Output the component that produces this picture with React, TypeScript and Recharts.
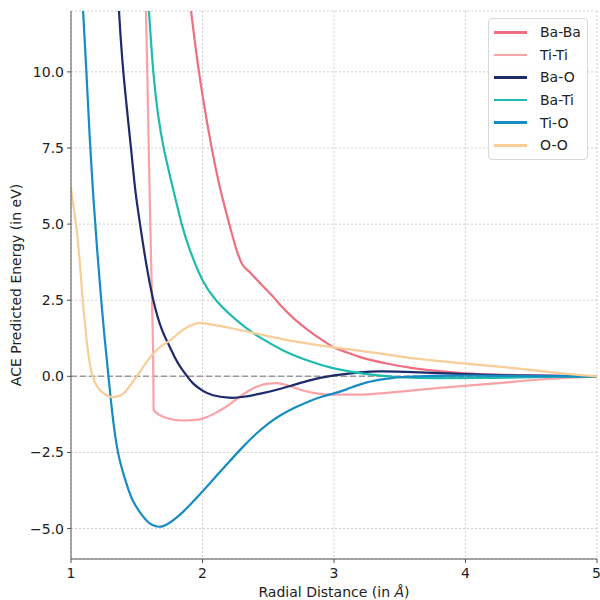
import React from "react";
import {
  LineChart,
  Line,
  XAxis,
  YAxis,
  CartesianGrid,
  ReferenceLine,
  Legend,
} from "recharts";

// radial distance (Å) / predicted energy (eV) per pair
const baBaX = [1.913, 1.973, 2.006, 2.07, 2.125, 2.204, 2.26, 2.298, 2.36, 2.44, 2.538, 2.6, 2.7, 2.8, 2.9, 3.0, 3.1, 3.2, 3.4, 3.6, 3.8, 4.0, 4.3, 4.6, 5.0];
const baBaY = [12.0, 10.0, 9.08, 7.5, 6.34, 5.0, 4.14, 3.71, 3.42, 3.05, 2.61, 2.3, 1.88, 1.53, 1.22, 0.95, 0.78, 0.63, 0.42, 0.27, 0.17, 0.1, 0.05, 0.02, 0];

const tiTiX = [1.57, 1.58, 1.591, 1.603, 1.616, 1.626, 1.628, 1.651, 1.7, 1.753, 1.85, 1.93, 2.006, 2.1, 2.18, 2.3, 2.437, 2.5, 2.56, 2.65, 2.75, 2.85, 3.0, 3.2, 3.375, 3.8, 4.2, 4.64, 5.0];
const tiTiY = [12.0, 10.0, 7.5, 5.0, 2.5, 0, -1.1, -1.2, -1.33, -1.4, -1.45, -1.44, -1.38, -1.2, -1.0, -0.62, -0.3, -0.24, -0.22, -0.3, -0.45, -0.55, -0.6, -0.6, -0.55, -0.38, -0.24, -0.08, 0];

const baOX = [1.365, 1.398, 1.456, 1.489, 1.525, 1.57, 1.626, 1.69, 1.753, 1.79, 1.829, 1.88, 1.93, 2.0, 2.08, 2.2, 2.3, 2.45, 2.6, 2.8, 3.0, 3.2, 3.35, 3.6, 4.0, 4.5, 5.0];
const baOY = [12.0, 10.0, 7.5, 6.12, 5.0, 3.75, 2.5, 1.55, 0.95, 0.62, 0.33, 0.02, -0.24, -0.47, -0.62, -0.7, -0.68, -0.56, -0.4, -0.15, 0.03, 0.13, 0.16, 0.14, 0.07, 0.02, 0];

const baTiX = [1.593, 1.626, 1.662, 1.705, 1.766, 1.842, 1.905, 2.0, 2.103, 2.2, 2.3, 2.36, 2.44, 2.61, 2.8, 3.0, 3.25, 3.5, 3.8, 4.2, 4.6, 5.0];
const baTiY = [12.0, 10.0, 8.6, 7.5, 6.34, 5.0, 4.14, 3.16, 2.5, 2.07, 1.7, 1.5, 1.27, 0.86, 0.52, 0.26, 0.07, -0.03, -0.06, -0.05, -0.02, 0];

const tiOX = [1.092, 1.117, 1.143, 1.17, 1.2, 1.228, 1.256, 1.284, 1.3, 1.322, 1.345, 1.373, 1.42, 1.47, 1.53, 1.58, 1.61, 1.64, 1.67, 1.7, 1.75, 1.8, 1.85, 1.92, 2.0, 2.1, 2.2, 2.3, 2.4, 2.5, 2.6, 2.7, 2.8, 2.9, 3.0, 3.1, 3.25, 3.4, 3.5, 3.7, 4.0, 4.5, 5.0];
const tiOY = [12.0, 10.0, 7.8, 5.9, 4.1, 2.6, 1.25, 0.05, -0.65, -1.5, -2.2, -2.8, -3.5, -4.08, -4.5, -4.76, -4.86, -4.915, -4.94, -4.92, -4.81, -4.65, -4.46, -4.15, -3.78, -3.3, -2.82, -2.35, -1.92, -1.55, -1.26, -1.03, -0.84, -0.68, -0.56, -0.42, -0.2, -0.08, -0.03, 0.01, 0.02, 0.01, 0];

const oOX = [1.0, 1.015, 1.038, 1.063, 1.089, 1.105, 1.119, 1.14, 1.165, 1.195, 1.22, 1.246, 1.27, 1.31, 1.36, 1.4, 1.45, 1.5, 1.56, 1.626, 1.69, 1.753, 1.829, 1.9, 1.96, 2.03, 2.23, 2.437, 2.7, 3.0, 3.3, 3.63, 4.0, 4.39, 4.77, 5.0];
const oOY = [6.2, 5.7, 5.0, 3.92, 2.5, 1.8, 1.18, 0.5, 0, -0.3, -0.45, -0.55, -0.62, -0.68, -0.65, -0.56, -0.3, 0, 0.38, 0.75, 1.0, 1.18, 1.45, 1.65, 1.75, 1.73, 1.57, 1.38, 1.15, 0.95, 0.78, 0.58, 0.42, 0.26, 0.08, 0];

const xTicks = [1, 2, 3, 4, 5];
const yTicks = [-5, -2.5, 0, 2.5, 5, 7.5, 10];

const toPoints = (xs: number[], ys: number[]) => xs.map((x, i) => ({ x, y: ys[i] }));

// Ba-Ba and Ti-Ti have sharp corners, the rest are smooth
const series = [
  { name: "Ba-Ba", color: "#ef6f7f", curve: "monotone", data: toPoints(baBaX, baBaY) },
  { name: "Ti-Ti", color: "#f9a3a7", curve: "monotone", data: toPoints(tiTiX, tiTiY) },
  { name: "Ba-O", color: "#1d2a6b", curve: "natural", data: toPoints(baOX, baOY) },
  { name: "Ba-Ti", color: "#1fbbae", curve: "natural", data: toPoints(baTiX, baTiY) },
  { name: "Ti-O", color: "#178cc4", curve: "natural", data: toPoints(tiOX, tiOY) },
  { name: "O-O", color: "#f9cd98", curve: "natural", data: toPoints(oOX, oOY) },
];
const order = series.map((s) => s.name);

const FONT = "DejaVu Sans, sans-serif";
const AXIS = "#555";

const fmtY = (v: number) => v.toFixed(1).replace("-", "\u2212");

function LegendBox({ payload }: any) {
  const items = [...(payload || [])].sort((a: any, b: any) => order.indexOf(a.value) - order.indexOf(b.value));
  return (
    <div
      style={{
        border: "1px solid #d8d8d8",
        borderRadius: 4,
        background: "rgba(255,255,255,0.85)",
        padding: "2px 0",
        width: 100,
        boxSizing: "border-box",
        fontFamily: FONT,
        fontSize: 14,
        color: "#222",
        textAlign: "left",
      }}
    >
      {items.map((p: any) => (
        <div key={p.value} style={{ display: "flex", alignItems: "center", height: 22.6 }}>
          <span style={{ display: "inline-block", marginLeft: 5, width: 33, height: 2.5, background: p.color }} />
          <span style={{ marginLeft: 13 }}>{p.value}</span>
        </div>
      ))}
    </div>
  );
}

function YLabel({ viewBox }: any) {
  const cx = viewBox.x + 16;
  const cy = viewBox.y + viewBox.height / 2;
  return (
    <text x={cx} y={cy} transform={`rotate(-90 ${cx} ${cy})`} textAnchor="middle" dominantBaseline="central" fontFamily={FONT} fontSize={14} fill="#222">
      ACE Predicted Energy (in eV)
    </text>
  );
}

function XLabel({ viewBox }: any) {
  return (
    <text x={viewBox.x + viewBox.width / 2} y={viewBox.y + 38} textAnchor="middle" fontFamily={FONT} fontSize={14} fill="#222">
      Radial Distance (in <tspan fontStyle="italic">Å</tspan>)
    </text>
  );
}

export default function App() {
  return (
    <div style={{ position: "absolute", left: 0, top: 0, width: 600, height: 600, background: "#fff" }}>
      <LineChart width={600} height={600} margin={{ top: 11, right: 3, bottom: 0, left: 0 }}>
        <CartesianGrid stroke="#d0d0d0" strokeDasharray="2 2" />
        <XAxis
          dataKey="x"
          type="number"
          domain={[1, 5]}
          ticks={xTicks}
          allowDataOverflow
          height={41}
          tickSize={4}
          tickMargin={5}
          stroke={AXIS}
          tick={{ fill: "#222", fontSize: 14, fontFamily: FONT }}
          label={<XLabel />}
        />
        <XAxis xAxisId="top" orientation="top" dataKey="x" type="number" domain={[1, 5]} height={0} tick={false} tickLine={false} stroke={AXIS} />
        <YAxis
          type="number"
          domain={[-6, 12]}
          ticks={yTicks}
          allowDataOverflow
          width={71}
          tickSize={4}
          tickMargin={3}
          stroke={AXIS}
          tickFormatter={fmtY}
          tick={{ fill: "#222", fontSize: 14, fontFamily: FONT }}
          label={<YLabel />}
        />
        <YAxis yAxisId="right" orientation="right" domain={[-6, 12]} width={0} tick={false} tickLine={false} stroke={AXIS} />
        <ReferenceLine y={0} stroke="#999" strokeWidth={1.5} strokeDasharray="6 3" />
        {series.map((s) => (
          <Line
            key={s.name}
            name={s.name}
            data={s.data}
            dataKey="y"
            type={s.curve as any}
            stroke={s.color}
            strokeWidth={2.2}
            dot={false}
            activeDot={false}
            isAnimationActive={false}
          />
        ))}
        <Legend
          layout="horizontal"
          align="center"
          verticalAlign="middle"
          content={<LegendBox />}
          wrapperStyle={{ top: 18, left: 488, width: 100, height: "auto" }}
        />
      </LineChart>
    </div>
  );
}
